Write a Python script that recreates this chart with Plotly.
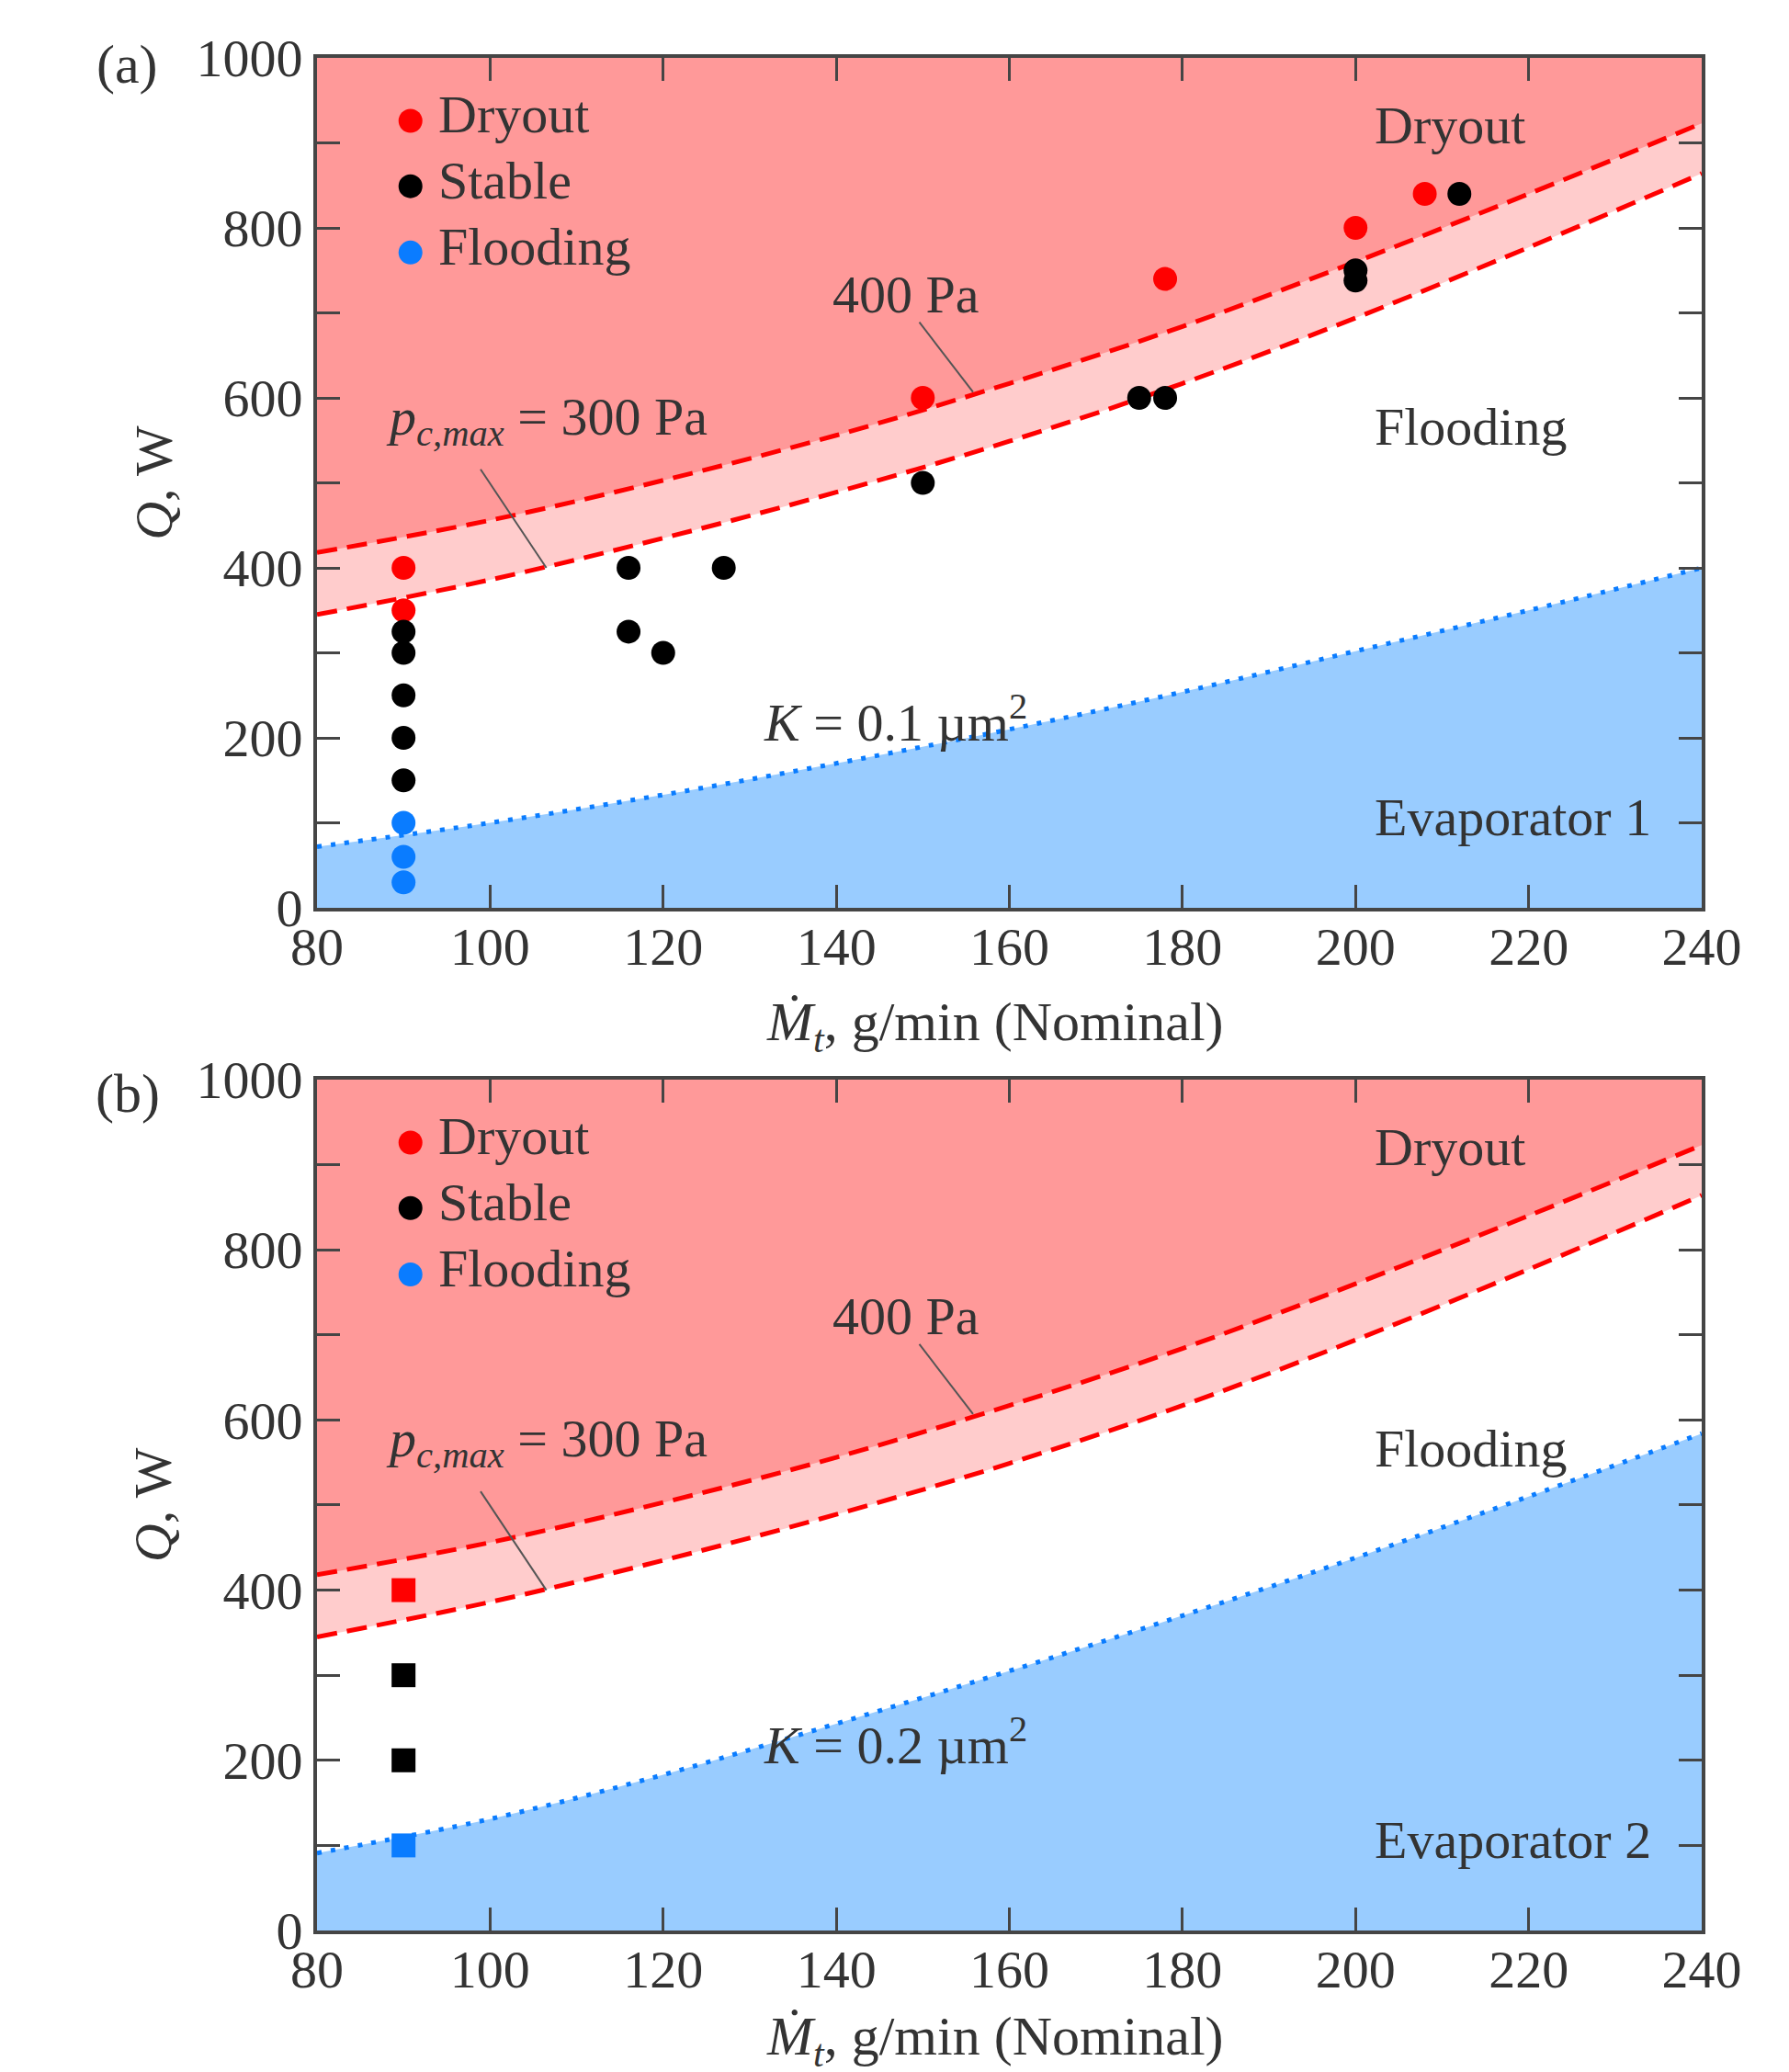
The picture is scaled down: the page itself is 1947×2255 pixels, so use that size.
import plotly.graph_objects as go

# ---------------- data ----------------
mdot_grid = [80, 100, 120, 140, 160, 180, 200, 220, 240]
q_limit_400pa = [418, 456, 503, 556, 617, 684, 760, 840, 923]
q_limit_300pa = [345, 386, 435, 489, 549, 617, 694, 777, 864]
q_flood_k01 = [72, 100, 133, 170, 210, 254, 302, 350, 400]
q_flood_k02 = [91, 131, 183, 243, 305, 370, 438, 510, 584]

a_dryout_m = [90, 90, 150, 178, 200, 208]
a_dryout_q = [400, 350, 600, 740, 800, 840]
a_stable_m = [90, 90, 90, 90, 90, 116, 116, 120, 127, 150, 175, 178, 200, 200, 212]
a_stable_q = [325, 300, 250, 200, 150, 400, 325, 300, 400, 500, 600, 600, 750, 738, 840]
a_flood_m = [90, 90, 90]
a_flood_q = [100, 60, 30]

b_dryout_m = [90]
b_dryout_q = [400]
b_stable_m = [90, 90]
b_stable_q = [300, 200]
b_flood_m = [90]
b_flood_q = [100]

x_tick_vals = [80, 100, 120, 140, 160, 180, 200, 220, 240]
y_tick_vals = [0, 100, 200, 300, 400, 500, 600, 700, 800, 900, 1000]
y_tick_text = ["0", "", "200", "", "400", "", "600", "", "800", "", "1000"]
legend_labels = ["Dryout", "Stable", "Flooding"]

# ---------------- styles ----------------
FONT = "Liberation Serif"
TXT = "#333333"
AX = "#454545"
RED = "#FF0000"
BLUE = "#0A7CFF"
DRY_FILL = "#FF9999"
BAND_FILL = "#FFCCCC"
FLOOD_FILL = "#99CCFF"
MS = 26
TS = 58

fig = go.Figure()


def add_panel(xa, ya, flood_curve, dry, stable, flood, symbol):
    common = dict(xaxis=xa, yaxis=ya, hoverinfo="skip", showlegend=False)
    # fills (drawn from the curves)
    fig.add_trace(go.Scatter(x=mdot_grid, y=q_limit_400pa, mode="lines",
                             line=dict(width=0, shape="spline"), fill="tozeroy",
                             fillcolor=BAND_FILL, **common))
    fig.add_trace(go.Scatter(x=mdot_grid, y=q_limit_300pa, mode="lines",
                             line=dict(width=0, shape="spline"), fill="tozeroy",
                             fillcolor="#FFFFFF", **common))
    fig.add_trace(go.Scatter(x=mdot_grid, y=flood_curve, mode="lines",
                             line=dict(width=0, shape="spline"), fill="tozeroy",
                             fillcolor=FLOOD_FILL, **common))
    # boundary lines
    for curve in (q_limit_400pa, q_limit_300pa):
        fig.add_trace(go.Scatter(x=mdot_grid, y=curve, mode="lines",
                                 line=dict(color=RED, width=5, dash="22px,11px", shape="spline"),
                                 **common))
    fig.add_trace(go.Scatter(x=mdot_grid, y=flood_curve, mode="lines",
                             line=dict(color=BLUE, width=5, dash="5px,10px", shape="spline"),
                             **common))
    # measured points
    for (mx, qy), col in zip((dry, stable, flood), (RED, "#000000", BLUE)):
        fig.add_trace(go.Scatter(x=mx, y=qy, mode="markers",
                                 marker=dict(color=col, size=MS, symbol=symbol, line=dict(width=0)),
                                 **common))


add_panel("x", "y", q_flood_k01,
          (a_dryout_m, a_dryout_q), (a_stable_m, a_stable_q), (a_flood_m, a_flood_q), "circle")
add_panel("x2", "y2", q_flood_k02,
          (b_dryout_m, b_dryout_q), (b_stable_m, b_stable_q), (b_flood_m, b_flood_q), "square")

annotations = []
shapes = []


def txt(text, x, y, xref, yref, size=TS, xanchor="left", yanchor="middle"):
    annotations.append(dict(text=text, x=x, y=y, xref=xref, yref=yref, showarrow=False,
                            xanchor=xanchor, yanchor=yanchor,
                            font=dict(family=FONT, size=size, color=TXT)))


for xr, yr, k_text, evap in (("x", "y", "<i>K</i> = 0.1 µm<sup>2</sup>", "Evaporator 1"),
                             ("x2", "y2", "<i>K</i> = 0.2 µm<sup>2</sup>", "Evaporator 2")):
    # legend (circles in both panels)
    for lbl, col, q in zip(legend_labels, (RED, "#000000", BLUE), (926, 849, 771)):
        r = MS / 2
        shapes.append(dict(type="circle", xref=xr, yref=yr, xsizemode="pixel", ysizemode="pixel",
                           xanchor=90.8, yanchor=q, x0=-r, x1=r, y0=-r, y1=r,
                           fillcolor=col, line=dict(width=0)))
        txt(lbl, 93.8, q + 7, xr, yr)
    txt("Dryout", 202, 921, xr, yr)
    txt("Flooding", 202, 566, xr, yr)
    txt(evap, 202, 106, xr, yr)
    txt("400 Pa", 139.4, 722, xr, yr)
    txt("<i>p</i><sub><i>c,max</i></sub> = 300 Pa", 87.8, 574, xr, yr)
    txt(k_text, 131.4, 222, xr, yr)
    shapes.append(dict(type="line", xref=xr, yref=yr, x0=98.9, y0=516, x1=106.5, y1=400,
                       line=dict(color="#555555", width=2)))
    shapes.append(dict(type="line", xref=xr, yref=yr, x0=149.6, y0=689, x1=155.8, y1=607,
                       line=dict(color="#555555", width=2)))

# panel labels and axis titles (paper coordinates)
txt("(a)", -0.137, 0.9966, "paper", "paper", size=60, xanchor="center")
txt("(b)", -0.137, 0.447, "paper", "paper", size=60, xanchor="center")
x_title = "<i>Ṁ</i><sub><i>t</i></sub>, g/min (Nominal)"
txt(x_title, 0.49, 0.4833, "paper", "paper", size=60, xanchor="center")
txt(x_title, 0.49, -0.0585, "paper", "paper", size=60, xanchor="center")
for yc in (0.773, 0.2272):
    annotations.append(dict(text="<i>Q</i>, W", x=-0.118, y=yc, xref="paper", yref="paper",
                            showarrow=False, textangle=-90, xanchor="center", yanchor="middle",
                            font=dict(family=FONT, size=TS, color=TXT)))

axis_common = dict(showline=True, linewidth=4, linecolor=AX, mirror="allticks",
                   ticks="inside", ticklen=25, tickwidth=3, tickcolor=AX,
                   showgrid=False, zeroline=False,
                   tickfont=dict(family=FONT, size=TS, color=TXT))
xcommon = dict(range=[80, 240], tickvals=x_tick_vals, ticklabelstandoff=-12, **axis_common)
ycommon = dict(range=[0, 1000], tickvals=y_tick_vals, ticktext=y_tick_text, **axis_common)

# page body has an 8px default margin; the figure is sized so the plot areas land where
# they are in the reference
fig.update_layout(
    width=1939, height=2247,
    margin=dict(l=337, r=95, t=55, b=154),
    paper_bgcolor="white", plot_bgcolor=DRY_FILL,
    showlegend=False,
    xaxis=dict(domain=[0, 1], anchor="y", **xcommon),
    yaxis=dict(domain=[0.5461, 1], anchor="x", **ycommon),
    xaxis2=dict(domain=[0, 1], anchor="y2", **xcommon),
    yaxis2=dict(domain=[0, 0.4544], anchor="x2", **ycommon),
    annotations=annotations,
    shapes=shapes,
)

fig.write_html("out.html")
